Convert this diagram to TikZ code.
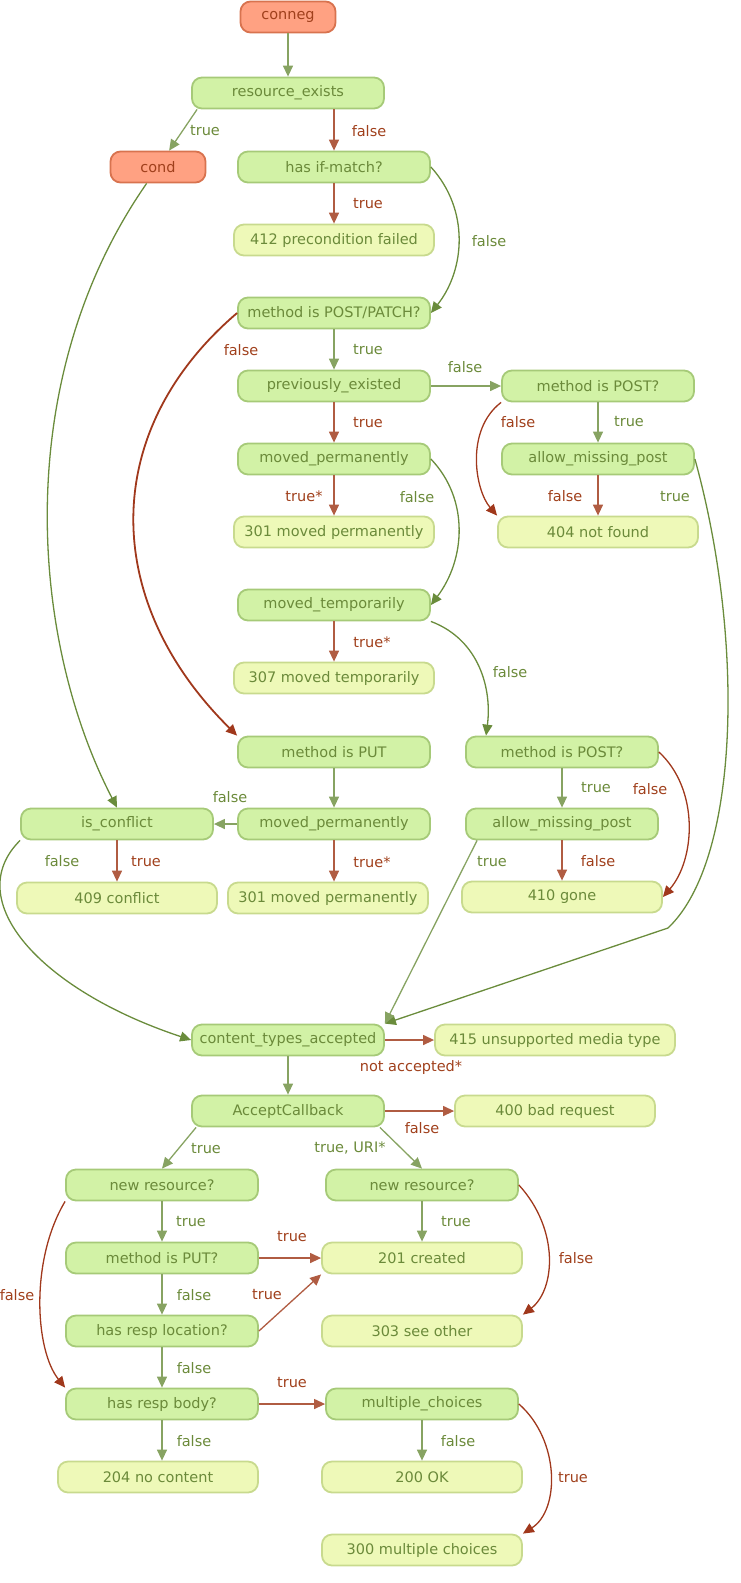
\documentclass[tikz,border=0pt]{standalone}
\usepackage{fontspec}
\setmainfont{DejaVu Sans}
\usetikzlibrary{arrows.meta}
\definecolor{dec_fill}{HTML}{D2F2A6}
\definecolor{dec_draw}{HTML}{A6CA78}
\definecolor{res_fill}{HTML}{EEF9B8}
\definecolor{res_draw}{HTML}{C8DA8E}
\definecolor{start_fill}{HTML}{FFA182}
\definecolor{start_draw}{HTML}{D8734F}
\definecolor{txt_green}{HTML}{6B8A3A}
\definecolor{txt_red}{HTML}{A0401C}
\definecolor{arr_green}{HTML}{87A362}
\definecolor{arr_dgreen}{HTML}{6A8C3C}
\definecolor{arr_red}{HTML}{B05C42}
\definecolor{arr_dred}{HTML}{A0381C}
\tikzset{
    box/.style={rounded corners=10pt, line width=1.8pt, minimum height=31pt,
        inner sep=2pt, font=\fontsize{14.5}{16}\selectfont},
    dec/.style={box, fill=dec_fill, draw=dec_draw, text=txt_green, minimum width=192pt},
    res/.style={box, fill=res_fill, draw=res_draw, text=txt_green, minimum width=200pt},
    start/.style={box, fill=start_fill, draw=start_draw, text=txt_red, minimum width=95pt},
    yes/.style={draw=arr_green, line width=1.3pt, -{Triangle[length=11pt,width=10pt]}},
    yesc/.style={yes, draw=arr_dgreen},
    no/.style={draw=arr_red, line width=1.3pt, -{Triangle[length=11pt,width=10pt]}},
    noc/.style={no, draw=arr_dred},
    lt/.style={text=txt_green, font=\fontsize{14.5}{16}\selectfont},
    lf/.style={text=txt_red, font=\fontsize{14.5}{16}\selectfont}
}
\begin{document}
\begin{tikzpicture}[x=1pt, y=-1pt]
    \useasboundingbox (0,0) rectangle (740,1583);

    % Nodes
    \node[start] (conneg) at (288,17) {conneg};
    \node[dec] (resexists) at (288,93) {resource\_exists};
    \node[start] (cond) at (158,167) {cond};
    \node[dec] (ifmatch) at (334,167) {has if-match?};
    \node[res] (pf412) at (334,240) {412 precondition failed};
    \node[dec] (postpatch) at (334,313) {method is POST/PATCH?};
    \node[dec] (prevex) at (334,386) {previously\_existed};
    \node[dec] (mpostA) at (598,386) {method is POST?};
    \node[dec] (movedA) at (334,459) {moved\_permanently};
    \node[dec] (ampA) at (598,459) {allow\_missing\_post};
    \node[res] (r301a) at (334,532) {301 moved permanently};
    \node[res] (r404) at (598,532) {404 not found};
    \node[dec] (movedtemp) at (334,605) {moved\_temporarily};
    \node[res] (r307) at (334,678) {307 moved temporarily};
    \node[dec] (isput) at (334,752) {method is PUT};
    \node[dec] (mpostB) at (562,752) {method is POST?};
    \node[dec] (isconf) at (117,824) {is\_conflict};
    \node[dec] (movedB) at (334,824) {moved\_permanently};
    \node[dec] (ampB) at (562,824) {allow\_missing\_post};
    \node[res] (r409) at (117,898) {409 conflict};
    \node[res] (r301b) at (328,898) {301 moved permanently};
    \node[res] (r410) at (562,897) {410 gone};
    \node[dec] (cta) at (288,1040) {content\_types\_accepted};
    \node[res, minimum width=240pt] (r415) at (555,1040) {415 unsupported media type};
    \node[dec] (acb) at (288,1111) {AcceptCallback};
    \node[res] (r400) at (555,1111) {400 bad request};
    \node[dec] (newresA) at (162,1185) {new resource?};
    \node[dec] (newresB) at (422,1185) {new resource?};
    \node[dec] (isputB) at (162,1258) {method is PUT?};
    \node[res] (r201) at (422,1258) {201 created};
    \node[dec] (hasloc) at (162,1331) {has resp location?};
    \node[res] (r303) at (422,1331) {303 see other};
    \node[dec] (hasbody) at (162,1404) {has resp body?};
    \node[dec] (multi) at (422,1404) {multiple\_choices};
    \node[res] (r204) at (158,1477) {204 no content};
    \node[res] (r200) at (422,1477) {200 OK};
    \node[res] (r300) at (422,1550) {300 multiple choices};

    % Edges, upper part
    \draw[yes] (conneg) -- (resexists);
    \draw[yes] ([xshift=6pt]resexists.south west) -- (cond);
    \node[lt] (l1) at (205,131) {true};
    \draw[no] (ifmatch.north |- resexists.south) -- (ifmatch);
    \node[lf] (l2) at (369,131) {false};
    \draw[no] (ifmatch) -- (pf412);
    \node[lf] (l3) at (368,204) {true};
    \draw[yesc] (ifmatch.east) .. controls (470,210) and (465,270) .. (postpatch.east);
    \node[lt] (l4) at (489,241) {false};
    \draw[yesc] (cond) .. controls (10,380) and (30,640) .. (isconf.north);
    \draw[noc, line width=1.8pt] (postpatch.west) .. controls (100,430) and (100,600) .. (isput.north west);
    \node[lf] (l5) at (241,350) {false};
    \draw[yes] (postpatch) -- (prevex);
    \node[lt] (l6) at (368,350) {true};
    \draw[yes] (prevex) -- (mpostA);
    \node[lt] (l7) at (465,367) {false};
    \draw[no] (prevex) -- (movedA);
    \node[lf] (l8) at (368,423) {true};
    \draw[yes] (mpostA) -- (ampA);
    \node[lt] (l9) at (629,422) {true};
    \draw[noc] (mpostA.south west) .. controls (465,430) and (475,490) .. (r404.north west);
    \node[lf] (l10) at (518,422) {false};
    \draw[no] (ampA) -- (r404);
    \node[lf] (l11) at (565,496) {false};
    \draw[yesc] (ampA.east) .. controls (745,640) and (740,860) .. (668,928)
        -- (cta.north east);
    \node[lt] (l12) at (675,497) {true};
    \draw[no] (movedA) -- (r301a);
    \node[lf] (l13) at (304,496) {true*};
    \draw[yesc] (movedA.east) .. controls (470,500) and (465,560) .. (movedtemp.east);
    \node[lt] (l14) at (417,497) {false};
    \draw[no] (movedtemp) -- (r307);
    \node[lf] (l15) at (372,642) {true*};
    \draw[yesc] (movedtemp.south east) .. controls (480,640) and (492,690) .. (mpostB.north west -| 486,0);
    \node[lt] (l16) at (510,672) {false};

    % Edges, middle part
    \draw[yes] (isput) -- (movedB);
    \draw[yes] (movedB) -- (isconf);
    \node[lt] (l17) at (230,797) {false};
    \draw[no] (movedB) -- (movedB |- r301b.north);
    \node[lf] (l18) at (372,862) {true*};
    \draw[no] (isconf) -- (r409);
    \node[lf] (l19) at (146,861) {true};
    \draw[yesc] (isconf.south west) .. controls (-40,900) and (40,990) .. (cta.west);
    \node[lt] (l20) at (62,861) {false};
    \draw[yes] (mpostB) -- (ampB);
    \node[lt] (l21) at (596,788) {true};
    \draw[noc] (mpostB.east) .. controls (700,790) and (695,860) .. (r410.east);
    \node[lf] (l22) at (650,789) {false};
    \draw[no] (ampB) -- (r410);
    \node[lf] (l23) at (598,861) {false};
    \draw[yes] ([xshift=12pt]ampB.south west) -- (cta.north east);
    \node[lt] (l24) at (492,861) {true};

    % Edges, lower part
    \draw[no] (cta) -- (r415);
    \node[lf] (l25) at (411,1067) {not accepted*};
    \draw[yes] (cta) -- (acb);
    \draw[no] (acb) -- (r400);
    \node[lf] (l26) at (422,1128) {false};
    \draw[yes] ([xshift=5pt]acb.south west) -- (newresA.north);
    \node[lt] (l27) at (206,1148) {true};
    \draw[yes] ([xshift=-5pt]acb.south east) -- (newresB.north);
    \node[lt] (l28) at (350,1148) {true, URI*};
    \draw[yes] (newresA) -- (isputB);
    \node[lt] (l29) at (191,1221) {true};
    \draw[noc] (newresA.south west) .. controls (30,1260) and (35,1350) .. (hasbody.north west);
    \node[lf] (l30) at (17,1295) {false};
    \draw[yes] (newresB) -- (r201);
    \node[lt] (l31) at (456,1221) {true};
    \draw[noc] (newresB.east) .. controls (560,1230) and (555,1290) .. (r303.north east);
    \node[lf] (l32) at (576,1258) {false};
    \draw[no] (isputB) -- (r201);
    \node[lf] (l33) at (292,1236) {true};
    \draw[yes] (isputB) -- (hasloc);
    \node[lt] (l34) at (194,1295) {false};
    \draw[no] (hasloc.east) -- (r201.south west);
    \node[lf] (l35) at (267,1294) {true};
    \draw[yes] (hasloc) -- (hasbody);
    \node[lt] (l36) at (194,1368) {false};
    \draw[no] (hasbody) -- (multi);
    \node[lf] (l37) at (292,1382) {true};
    \draw[yes] (hasbody) -- (hasbody |- r204.north);
    \node[lt] (l38) at (194,1441) {false};
    \draw[yes] (multi) -- (r200);
    \node[lt] (l39) at (458,1441) {false};
    \draw[noc] (multi.east) .. controls (560,1440) and (560,1510) .. (r300.north east);
    \node[lf] (l40) at (573,1477) {true};
\end{tikzpicture}
\end{document}
